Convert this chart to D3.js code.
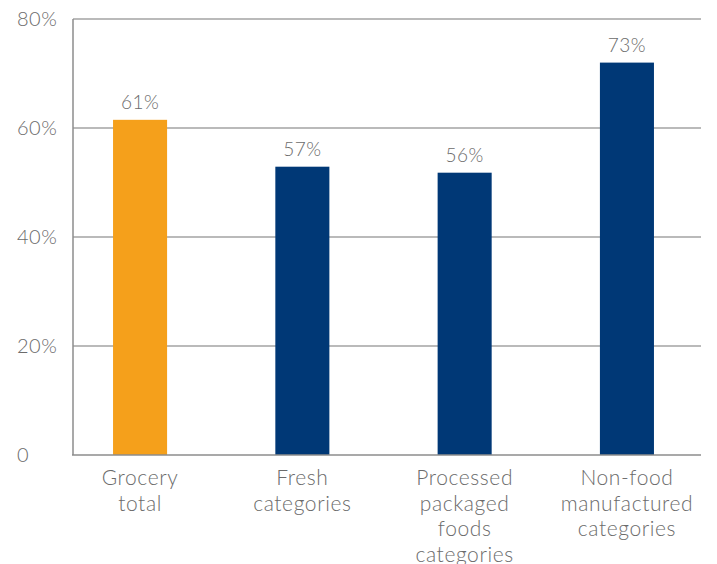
<!DOCTYPE html>
<meta charset="utf-8">
<style>
body { margin: 0; background: #fff; }
text { font-family: "Lato", sans-serif; fill: #6b6b6b; }
</style>
<body>
<script src="https://cdn.jsdelivr.net/npm/d3@7"></script>
<script>
var width = 717
var height = 564

// chart data
var categories = ['Grocery total', 'Fresh categories', 'Processed packaged foods categories', 'Non-food manufactured categories']
var categoryLines = [['Grocery', 'total'], ['Fresh', 'categories'], ['Processed', 'packaged', 'foods', 'categories'], ['Non-food', 'manufactured', 'categories']]
var values = [0.615, 0.529, 0.518, 0.72]
var valueLabels = ['61%', '57%', '56%', '73%']
var barColors = ['#f5a01b', '#003876', '#003876', '#003876']
var yTicks = [0, 0.2, 0.4, 0.6, 0.8]
var yTickLabels = ['0', '20%', '40%', '60%', '80%']

var x = d3.scaleBand()
    .domain(categories)
    .range([59, 708])
    .paddingInner(0.667)
    .paddingOuter(0.333)

var y = d3.scaleLinear()
    .domain([0, 0.8])
    .range([455, 19])

var svg = d3.select('body')
    .append('svg')
    .attr('width', width)
    .attr('height', height)

// gridlines
svg.selectAll('.grid')
    .data(yTicks.slice(1))
    .enter().append('line')
    .attr('x1', 73)
    .attr('x2', 701)
    .attr('y1', function (d) { return y(d) })
    .attr('y2', function (d) { return y(d) })
    .style('stroke', '#a3a3a3')
    .style('stroke-width', 1.5)

svg.selectAll('.ytick')
    .data(yTicks)
    .enter().append('text')
    .attr('x', 17)
    .attr('y', function (d) { return y(d) })
    .attr('dy', '0.36em')
    .style('font-size', '20px')
    .style('font-weight', 300)
    .style('letter-spacing', '0.5px')
    .text(function (d, i) { return yTickLabels[i] })

svg.selectAll('.bar')
    .data(values)
    .enter().append('rect')
    .attr('x', function (d, i) { return x(categories[i]) })
    .attr('width', x.bandwidth())
    .attr('y', function (d) { return y(d) })
    .attr('height', function (d) { return y(0) - y(d) })
    .style('fill', function (d, i) { return barColors[i] })

svg.selectAll('.vlabel')
    .data(values)
    .enter().append('text')
    .attr('x', function (d, i) { return x(categories[i]) + x.bandwidth() / 2 })
    .attr('y', function (d) { return y(d) - 11 })
    .attr('text-anchor', 'middle')
    .style('font-size', '19px')
    .style('font-weight', 300)
    .style('letter-spacing', '0.5px')
    .text(function (d, i) { return valueLabels[i] })

// axes lines
svg.append('line')
    .attr('x1', 73).attr('x2', 73)
    .attr('y1', 19).attr('y2', 455)
    .style('stroke', '#8c8c8c')
    .style('stroke-width', 1.5)
svg.append('line')
    .attr('x1', 72).attr('x2', 701)
    .attr('y1', 455).attr('y2', 455)
    .style('stroke', '#8c8c8c')
    .style('stroke-width', 1.5)

var cat = svg.selectAll('.cat')
    .data(categories)
    .enter().append('text')
    .attr('text-anchor', 'middle')
    .attr('transform', function (d) { return 'translate(' + (x(d) + x.bandwidth() / 2) + ',485)' })
    .style('font-size', '21px')
    .style('font-weight', 300)
    .style('letter-spacing', '0.6px')

cat.selectAll('tspan')
    .data(function (d, i) { return categoryLines[i] })
    .enter().append('tspan')
    .attr('x', 0)
    .attr('y', function (d, i) { return i * 25.7 })
    .text(function (d) { return d })
</script>
</body>
